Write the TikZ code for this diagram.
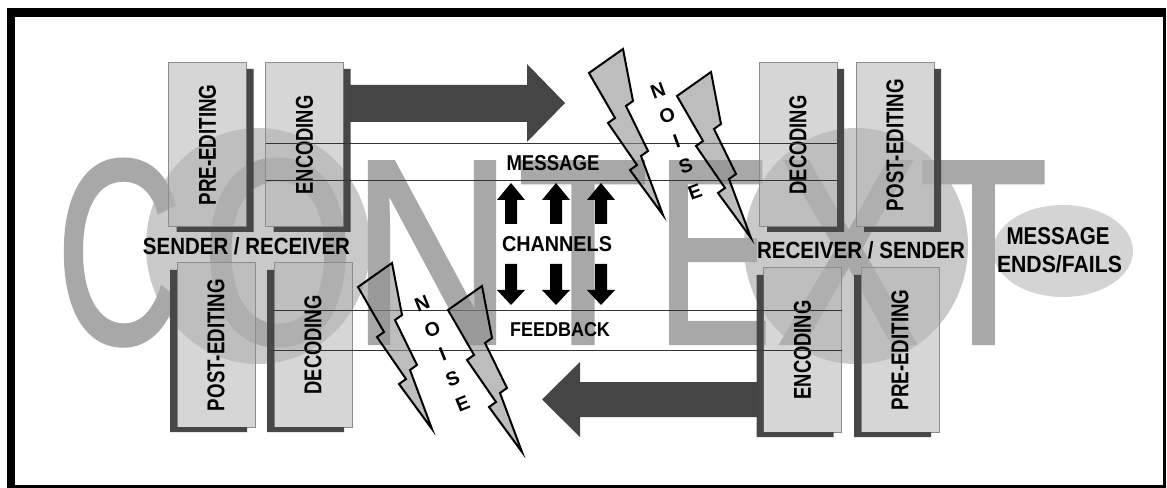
\documentclass[tikz,border=0pt]{standalone}
\usepackage{fontspec}
\setmainfont{Liberation Sans}
\newfontfamily\ctxfont[FakeBold=1.6]{Liberation Sans}
\usetikzlibrary{calc}
\newlength{\px}
\setlength{\px}{0.75pt}
\newcommand{\fitbox}[3]{\resizebox{#1\px}{#2\px}{\bfseries #3}}
\newcommand{\vlabel}[2]{\rotatebox{90}{\fitbox{#1}{17}{#2}}}
\newcommand{\bigletter}[2]{\scalebox{#1}[1]{#2}}
\definecolor{lettergray}{gray}{0.66}
\definecolor{discgray}{gray}{0.79}
\definecolor{ellgray}{gray}{0.83}
\definecolor{boxfillc}{gray}{0.714}
\definecolor{boxborderc}{gray}{0.55}
\definecolor{shadowc}{gray}{0.28}
\definecolor{arrowc}{gray}{0.27}
\definecolor{boltc}{gray}{0.56}
\definecolor{linec}{gray}{0.2}
\newcommand{\shadowR}[1]{\fill[shadowc] ($(#1.north east)+(0,6)$) -- ++(7,0) -- ($(#1.south east)+(7,5)$) -- ($(#1.south west)+(8,5)$) -- ++(0,-5) -- (#1.south east) -- cycle;}
\newcommand{\shadowL}[1]{\fill[shadowc] ($(#1.north west)+(0,7)$) -- ++(-7,0) -- ($(#1.south west)+(-7,5)$) -- ($(#1.south east)+(-8,5)$) -- ++(0,-5) -- (#1.south west) -- cycle;}
\newcommand{\boltat}[2]{\begin{scope}[shift={(#1,#2)}]
  \draw[boltshape] (-17,12) -- (17,-12) -- (27,40) -- (20,45) -- (42,90) -- (35,95) -- (57,154) -- (24,109) -- (31,104) -- (2,62) -- (9,57) -- cycle;
\end{scope}}
\begin{document}
\begin{tikzpicture}[x=0.75pt,y=-0.75pt,
  stagebox/.style={draw=boxborderc, line width=0.75pt, fill=boxfillc, fill opacity=0.56, text opacity=1, minimum width=58.5pt, minimum height=123pt, inner sep=0pt, outer sep=0pt},
  ctxletter/.style={text=lettergray, inner sep=0pt, anchor=base, font=\ctxfont\fontsize{197}{197}\selectfont},
  txt/.style={inner sep=0pt, text=black},
  boltshape/.style={draw=black, line width=1.5pt, fill=boltc, fill opacity=0.59, line join=miter},
  noisetxt/.style={align=center, inner sep=0pt, font=\bfseries\fontsize{14.7}{20.25}\selectfont},
  chline/.style={draw=linec, line width=0.75pt},
  bigarrow/.style={fill=arrowc}
]
\useasboundingbox (0,0) rectangle (1167,488);
% frame
\fill[black] (7,8) rectangle (1166,488);
\fill[white] (15,17) rectangle (1163,485);
% discs and ellipse
\fill[discgray] (258,246) ellipse [x radius=112, y radius=118];
\fill[discgray] (856,246) ellipse [x radius=112, y radius=118];
\fill[ellgray] (1063,251) ellipse [x radius=70, y radius=46];
% CONTEXT
\node[ctxletter] (cC) at (119,343) {\bigletter{0.66}{C}};
\node[ctxletter] (cO) at (278,343) {\bigletter{0.74}{O}};
\node[ctxletter] (cN) at (432,343) {\bigletter{0.85}{N}};
\node[ctxletter] (cT) at (583,343) {\bigletter{0.81}{T}};
\node[ctxletter] (cE) at (714,343) {\bigletter{0.66}{E}};
\node[ctxletter] (cX) at (848,343) {\bigletter{0.81}{X}};
\node[ctxletter] (cT2) at (983.5,343) {\bigletter{0.80}{T}};
% boxes
\node[stagebox] (preA) at (207.5,145) {\vlabel{121}{PRE-EDITING}};
\node[stagebox] (encA) at (304.5,145) {\vlabel{99}{ENCODING}};
\node[stagebox] (postB) at (216,345) {\vlabel{132}{POST-EDITING}};
\node[stagebox] (decB) at (313,345) {\vlabel{99}{DECODING}};
\node[stagebox] (decC) at (798,145) {\vlabel{99}{DECODING}};
\node[stagebox] (postC) at (895,145) {\vlabel{132}{POST-EDITING}};
\node[stagebox] (encD) at (802.5,350) {\vlabel{99}{ENCODING}};
\node[stagebox] (preD) at (900,350) {\vlabel{121}{PRE-EDITING}};
\shadowR{preA}\shadowR{encA}\shadowR{decC}\shadowR{postC}
\shadowL{postB}\shadowL{decB}\shadowL{encD}\shadowL{preD}
% channel lines
\draw[chline] (encA.west |- 0,144) -- (decC.east |- 0,144);
\draw[chline] (encA.west |- 0,181) -- (decC.east |- 0,181);
\draw[chline] (decB.west |- 0,310) -- (encD.east |- 0,310);
\draw[chline] (decB.west |- 0,350) -- (encD.east |- 0,350);
% big arrows
\coordinate (tipTop) at (565,103);
\coordinate (tipBot) at (542,399.5);
\fill[bigarrow] (349,85) -- (527,85) -- (527,64) -- (tipTop) -- (527,142) -- (527,122) -- (349,122) -- cycle;
\fill[bigarrow] (757,382) -- (580,382) -- (580,362) -- (tipBot) -- (580,437) -- (580,417) -- (757,417) -- cycle;
% bolts
\boltat{606}{61}
\boltat{694}{84}
\boltat{375}{275}
\boltat{465}{298}
\node[noisetxt, rotate=20] (noiseA) at (676.5,141) {N\\O\\I\\S\\E};
\node[noisetxt, rotate=22] (noiseB) at (442.5,354) {N\\O\\I\\S\\E};
% channel arrows
\foreach \x in {511,556,601} {
  \fill[black] (\x,183) -- ++(14,17) -- ++(-8,0) -- ++(0,24) -- ++(-12,0) -- ++(0,-24) -- ++(-8,0) -- cycle;
  \fill[black] (\x,305) -- ++(14,-15) -- ++(-8,0) -- ++(0,-26) -- ++(-12,0) -- ++(0,26) -- ++(-8,0) -- cycle;
}
% labels
\node[txt] (msg) at (553,163) {\fitbox{93}{15}{MESSAGE}};
\node[txt] (chan) at (557,244) {\fitbox{110}{15}{CHANNELS}};
\node[txt] (fb) at (560,330) {\fitbox{100}{14}{FEEDBACK}};
\node[txt] (sr) at (246.5,246) {\fitbox{207}{17}{SENDER / RECEIVER}};
\node[txt] (rs) at (861,250) {\fitbox{208}{17}{RECEIVER / SENDER}};
\node[txt] (me1) at (1058,236) {\fitbox{103}{17}{MESSAGE}};
\node[txt] (me2) at (1059.5,264) {\fitbox{125}{17}{ENDS/FAILS}};
\end{tikzpicture}
\end{document}
